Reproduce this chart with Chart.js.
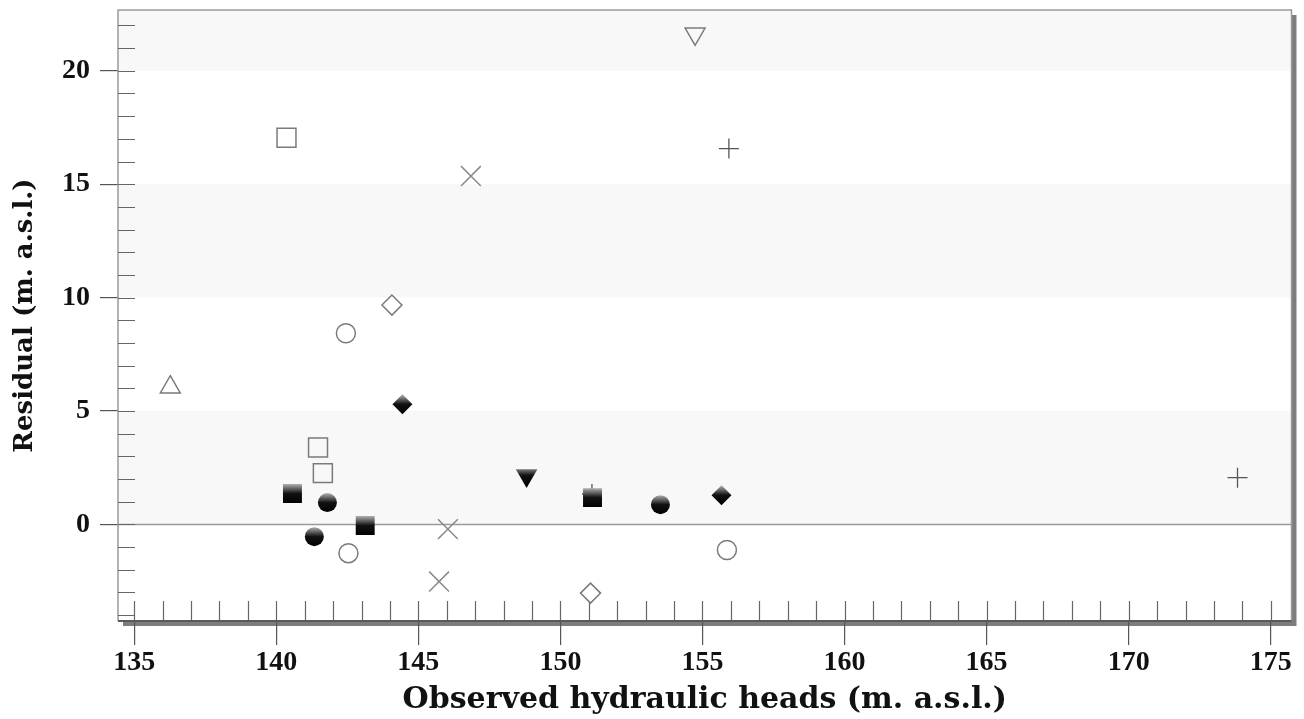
<!DOCTYPE html>
<html>
<head>
<meta charset="utf-8">
<script src="https://cdn.jsdelivr.net/npm/chart.js@4.4.0/dist/chart.umd.min.js"></script>
<style>
  html, body { margin: 0; padding: 0; background: #fff; }
  #wrap { width: 1304px; height: 719px; }
</style>
</head>
<body>
<div id="wrap"><canvas id="c" width="1304" height="719"></canvas></div>
<script>
// ---- data (observed head, residual) ----
const openTriangleUp   = [[136.27, 6.05]];
const openSquares      = [[140.36, 17.05], [141.47, 3.39], [141.64, 2.26]];
const filledSquares    = [[140.57, 1.36], [143.13, -0.05], [151.13, 1.18]];
const filledCircles    = [[141.80, 0.96], [141.34, -0.54], [153.52, 0.87]];
const openCircles      = [[142.45, 8.43], [142.54, -1.27], [155.86, -1.13]];
const openDiamonds     = [[144.07, 9.67], [151.06, -3.03]];
const filledDiamonds   = [[144.44, 5.30], [155.67, 1.29]];
const crosses          = [[146.85, 15.36], [146.04, -0.21], [145.73, -2.52]];
const filledTriDown    = [[148.81, 2.16]];
const openTriDown      = [[154.74, 21.63]];
const pluses           = [[155.93, 16.57], [173.83, 2.06], [151.11, 1.34]];

const xTicks = [135, 140, 145, 150, 155, 160, 165, 170, 175];
const yTicks = [0, 5, 10, 15, 20];
const xMinorTicks = Array.from({length: 41}, (_, i) => 135 + i);
const yMinorTicks = Array.from({length: 27}, (_, i) => -4 + i);
const shadedBands = [[0, 5], [10, 15], [20, 25]];

const xTitle = 'Observed hydraulic heads (m. a.s.l.)';
const yTitle = 'Residual (m. a.s.l.)';

const toPts = arr => arr.map(([x, y]) => ({x, y}));

function gradFill(ctx) {
  const chart = ctx.chart;
  const ys = chart.scales && chart.scales.y;
  if (!ys || !ctx.parsed) return '#000';
  const py = ys.getPixelForValue(ctx.parsed.y);
  if (!isFinite(py)) return '#000';
  const g = chart.ctx.createLinearGradient(0, py - 10, 0, py + 10);
  g.addColorStop(0, '#b8b8b8');
  g.addColorStop(0.5, '#111');
  g.addColorStop(1, '#000');
  return g;
}

function openSet(data, style, radius, rotation, color, lw) {
  return {
    data: toPts(data), pointStyle: style, pointRadius: radius, pointRotation: rotation || 0,
    pointBackgroundColor: 'rgba(0,0,0,0)', pointBorderColor: color || '#7a7a7a',
    pointBorderWidth: lw || 1.5, pointHoverRadius: radius, showLine: false
  };
}
function filledSet(data, style, radius, rotation) {
  return {
    data: toPts(data), pointStyle: style, pointRadius: radius, pointRotation: rotation || 0,
    pointBackgroundColor: gradFill, pointBorderWidth: 0, pointBorderColor: 'rgba(0,0,0,0)',
    pointHoverRadius: radius, showLine: false
  };
}

const decor = {
  id: 'decor',
  beforeDraw(chart) {
    const {ctx, chartArea: a, scales: {y}} = chart;
    ctx.save();
    ctx.fillStyle = '#fff';
    ctx.fillRect(0, 0, chart.width, chart.height);
    ctx.fillStyle = '#7d7d7d';
    ctx.fillRect(a.left + 5, a.top + 5, a.right - a.left, a.bottom - a.top);
    ctx.fillStyle = '#fff';
    ctx.fillRect(a.left, a.top, a.right - a.left, a.bottom - a.top);
    ctx.fillStyle = '#f8f8f8';
    shadedBands.forEach(([lo, hi]) => {
      const y1 = y.getPixelForValue(Math.min(hi, y.max));
      const y2 = y.getPixelForValue(Math.max(lo, y.min));
      ctx.fillRect(a.left, y1, a.right - a.left, y2 - y1);
    });
    ctx.restore();
  },
  beforeDatasetsDraw(chart) {
    const {ctx, chartArea: a, scales: {x, y}} = chart;
    ctx.save();
    ctx.strokeStyle = '#9a9a9a'; ctx.lineWidth = 1.5;
    const y0 = y.getPixelForValue(0);
    ctx.beginPath(); ctx.moveTo(a.left, y0); ctx.lineTo(a.right, y0); ctx.stroke();
    ctx.strokeStyle = '#9a9a9a'; ctx.lineWidth = 1.5;
    ctx.beginPath();
    ctx.moveTo(a.left, a.bottom); ctx.lineTo(a.left, a.top); ctx.lineTo(a.right, a.top); ctx.lineTo(a.right, a.bottom);
    ctx.stroke();
    ctx.strokeStyle = '#666'; ctx.lineWidth = 1.2;
    ctx.beginPath();
    yMinorTicks.forEach(v => {
      const py = Math.round(y.getPixelForValue(v)) + 0.5;
      if (py < a.top || py > a.bottom) return;
      ctx.moveTo(a.left, py); ctx.lineTo(a.left + 17, py);
    });
    xMinorTicks.forEach(v => {
      const px = Math.round(x.getPixelForValue(v)) + 0.5;
      ctx.moveTo(px, a.bottom); ctx.lineTo(px, a.bottom - 20);
    });
    ctx.stroke();
    ctx.strokeStyle = '#5a5a5a'; ctx.lineWidth = 2;
    ctx.beginPath(); ctx.moveTo(a.left, a.bottom); ctx.lineTo(a.right, a.bottom); ctx.stroke();
    ctx.restore();
  }
};

const tickFont = {family: '"Liberation Serif", "Times New Roman", serif', size: 28, weight: 'bold'};
const xTitleFont = {family: '"DejaVu Serif", serif', size: 30, weight: 'bold'};
const yTitleFont = {family: '"DejaVu Serif", serif', size: 26, weight: 'bold'};

new Chart(document.getElementById('c'), {
  type: 'scatter',
  data: {
    datasets: [
      openSet(openTriangleUp, 'triangle', 11.5, 0),
      openSet(openSquares, 'rect', 13.4, 0),
      openSet(openCircles, 'circle', 9.5, 0),
      openSet(openDiamonds, 'rectRot', 10, 0),
      openSet(openTriDown, 'triangle', 11.5, 180),
      openSet(crosses, 'crossRot', 14, 0, '#8a8a8a', 1.5),
      filledSet(filledSquares, 'rect', 13.4, 0),
      filledSet(filledCircles, 'circle', 9.5, 0),
      filledSet(filledDiamonds, 'rectRot', 10, 0),
      filledSet(filledTriDown, 'triangle', 12.5, 180),
      openSet(pluses, 'cross', 10, 0, '#555', 1.3)
    ]
  },
  options: {
    responsive: false,
    animation: false,
    events: [],
    layout: {autoPadding: false, padding: {top: 10, right: 12.5, left: 0, bottom: 0}},
    plugins: {legend: {display: false}, tooltip: {enabled: false}},
    scales: {
      x: {
        type: 'linear', min: 134.43, max: 175.73,
        afterBuildTicks: s => { s.ticks = xTicks.map(v => ({value: v})); },
        afterFit: s => { s.height = 98; s.paddingLeft = 0; s.paddingRight = 0; },
        ticks: {font: tickFont, color: '#111', padding: 1, autoSkip: false, maxRotation: 0,
                callback: v => String(v)},
        grid: {display: true, drawOnChartArea: false, drawTicks: true, tickLength: 24,
               color: '#555', lineWidth: 1.2},
        border: {display: false},
        title: {display: true, text: xTitle, font: xTitleFont, color: '#111', padding: {top: 0, bottom: 1}}
      },
      y: {
        type: 'linear', min: -4.26, max: 22.68,
        afterBuildTicks: s => { s.ticks = yTicks.map(v => ({value: v})); },
        afterFit: s => { s.width = 118; s.paddingTop = 0; s.paddingBottom = 0; },
        ticks: {font: tickFont, color: '#111', padding: 10, autoSkip: false,
                callback: v => String(v)},
        grid: {display: true, drawOnChartArea: false, drawTicks: true, tickLength: 18,
               color: '#555', lineWidth: 1.2},
        border: {display: false},
        title: {display: true, text: yTitle, font: yTitleFont, color: '#111', padding: {top: 10, bottom: 0}}
      }
    }
  },
  plugins: [decor]
});
</script>
</body>
</html>
